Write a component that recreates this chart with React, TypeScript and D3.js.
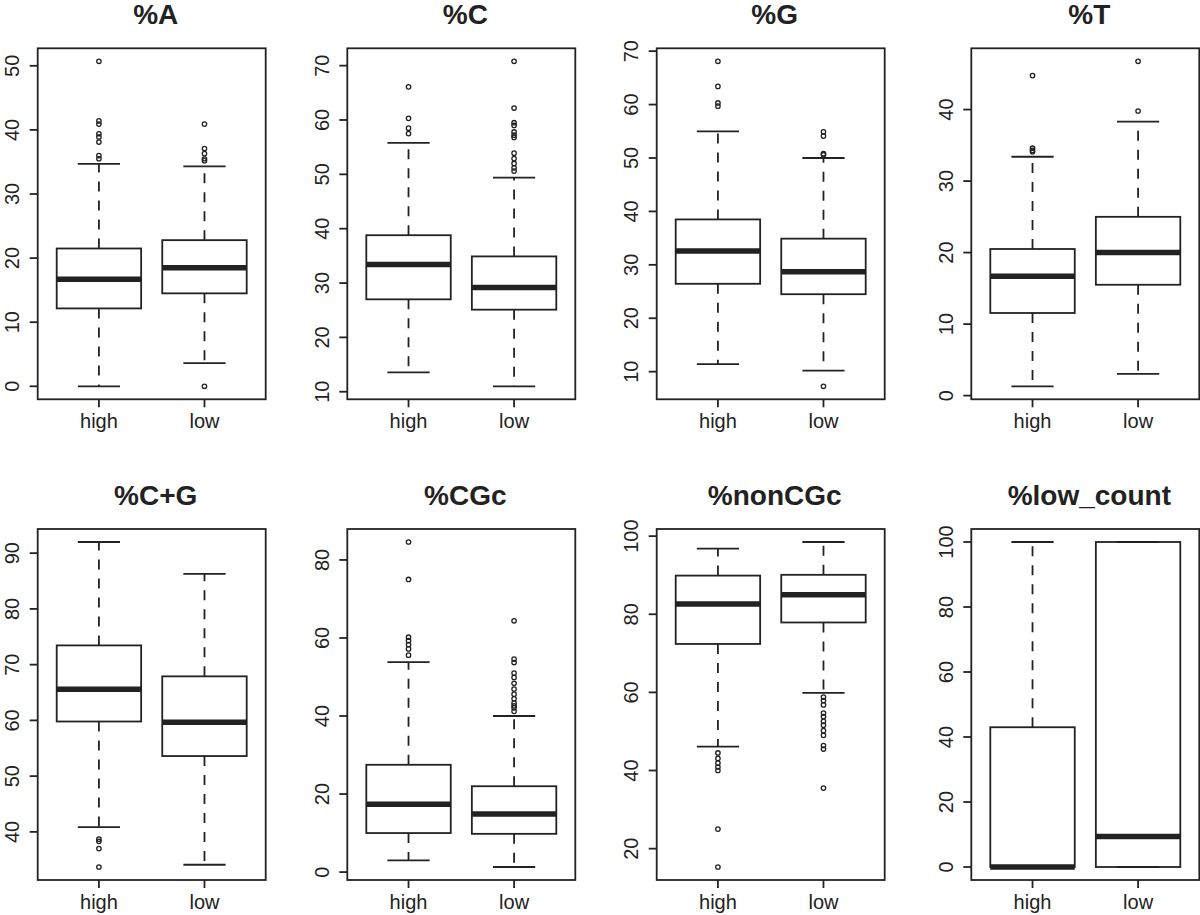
import React from "react";
import * as d3 from "d3";

// ---- data ----
const groups = ["high", "low"];
const panelTitles = ["%A", "%C", "%G", "%T", "%C+G", "%CGc", "%nonCGc", "%low_count"];

// [high, low] per panel
const lowerWhisker = [
  [0, 3.6], [13.55, 11.0], [11.4, 10.2], [1.3, 3.03],
  [40.84, 34.1], [3.0, 1.3], [46.1, 59.9], [0, 0],
];
const q1 = [
  [12.15, 14.5], [27.0, 25.1], [26.45, 24.5], [11.55, 15.5],
  [59.8, 53.6], [10.0, 9.8], [72.4, 77.9], [0, 0],
];
const medians = [
  [16.7, 18.5], [33.4, 29.2], [32.6, 28.7], [16.7, 20.0],
  [65.6, 59.65], [17.4, 14.9], [82.6, 85.0], [0, 9.4],
];
const q3 = [
  [21.5, 22.8], [38.8, 34.9], [38.5, 34.9], [20.5, 25.0],
  [73.45, 67.9], [27.5, 22.0], [89.9, 90.1], [43.0, 100],
];
const upperWhisker = [
  [34.7, 34.3], [55.8, 49.4], [55.0, 50.0], [33.4, 38.3],
  [92.0, 86.3], [53.8, 40.0], [96.8, 98.5], [100, 100],
];
const outliersHigh = [
  [50.7, 41.4, 40.9, 39.4, 38.9, 38.1, 36.0, 35.5],
  [66.1, 60.3, 58.5, 57.5],
  [68.1, 63.4, 60.3, 59.7],
  [44.75, 34.6, 34.3, 34.1],
  [38.7, 38.3, 37.0, 33.7],
  [84.6, 75.0, 60.2, 59.3, 58.3, 57.2, 55.6],
  [44.5, 43.1, 41.9, 40.9, 40.0, 25.0, 15.3],
  [],
];
const outliersLow = [
  [40.9, 37.1, 36.3, 35.5, 35.2, 0],
  [70.8, 62.2, 59.5, 59.0, 57.8, 57.2, 56.8, 53.9, 52.9, 52.0, 51.2, 50.6],
  [54.9, 54.1, 50.8, 50.6, 7.26],
  [46.75, 39.8],
  [],
  [64.4, 54.6, 53.7, 51.0, 49.9, 48.4, 46.9, 45.6, 44.4, 43.3, 42.6, 42.1, 41.2],
  [58.8, 57.9, 56.8, 54.7, 53.8, 52.6, 51.6, 50.2, 49.0, 46.4, 45.5, 35.5],
  [],
];
const yTicks = [
  [0, 10, 20, 30, 40, 50],
  [10, 20, 30, 40, 50, 60, 70],
  [10, 20, 30, 40, 50, 60, 70],
  [0, 10, 20, 30, 40],
  [40, 50, 60, 70, 80, 90],
  [0, 20, 40, 60, 80],
  [20, 40, 60, 80, 100],
  [0, 20, 40, 60, 80, 100],
];

// ---- layout ----
const W = 1200;
const H = 915;
const frameLefts = [37.7, 347.3, 656.7, 971.3];
const frameW = 228;
const rowTops = [48.3, 529];
const frameH = 351;
const INK = "#222";
const FONT = "'Liberation Sans', Arial, Helvetica, sans-serif";

function Panel({ idx }: { idx: number }) {
  const col = idx % 4;
  const row = Math.floor(idx / 4);
  const left = frameLefts[col];
  const top = rowTops[row];
  const right = left + frameW;
  const bottom = top + frameH;

  const all = [
    ...lowerWhisker[idx], ...upperWhisker[idx], ...q1[idx], ...q3[idx],
    ...outliersHigh[idx], ...outliersLow[idx],
  ];
  const lo = d3.min(all) as number;
  const hi = d3.max(all) as number;
  const pad = (hi - lo) * 0.04;
  const y = d3.scaleLinear().domain([lo - pad, hi + pad]).range([bottom, top]);
  const x = d3.scaleLinear().domain([0.42, 2.58]).range([left, right]);

  const outs = [outliersHigh[idx], outliersLow[idx]];

  return (
    <g>
      <text
        x={(left + right) / 2 + 4}
        y={top - 24}
        textAnchor="middle"
        fontFamily={FONT}
        fontWeight="bold"
        fontSize={28}
        fill={INK}
      >
        {panelTitles[idx]}
      </text>
      {/* y axis */}
      {yTicks[idx].map((t) => (
        <g key={"yt" + t}>
          <line x1={left - 8} x2={left} y1={y(t)} y2={y(t)} stroke={INK} strokeWidth={1.8} />
          <text
            transform={`translate(${left - 18.5},${y(t)}) rotate(-90)`}
            textAnchor="middle"
            fontFamily={FONT}
            fontSize={20}
            fill={INK}
          >
            {t}
          </text>
        </g>
      ))}
      {/* x axis */}
      {groups.map((g, i) => (
        <g key={"xt" + g}>
          <line x1={x(i + 1)} x2={x(i + 1)} y1={bottom} y2={bottom + 8} stroke={INK} strokeWidth={1.8} />
          <text x={x(i + 1)} y={bottom + 29} textAnchor="middle" fontFamily={FONT} fontSize={20} fill={INK}>
            {g}
          </text>
        </g>
      ))}
      {/* boxes */}
      {groups.map((g, i) => {
        const c = i + 1;
        const bx0 = x(c - 0.4);
        const bx1 = x(c + 0.4);
        const sx0 = x(c - 0.2);
        const sx1 = x(c + 0.2);
        const xc = x(c);
        return (
          <g key={"b" + g}>
            <line x1={xc} x2={xc} y1={y(q1[idx][i])} y2={y(lowerWhisker[idx][i])} stroke={INK} strokeWidth={1.8} strokeDasharray="10,9" />
            <line x1={xc} x2={xc} y1={y(q3[idx][i])} y2={y(upperWhisker[idx][i])} stroke={INK} strokeWidth={1.8} strokeDasharray="10,9" />
            <line x1={sx0} x2={sx1} y1={y(lowerWhisker[idx][i])} y2={y(lowerWhisker[idx][i])} stroke={INK} strokeWidth={1.8} />
            <line x1={sx0} x2={sx1} y1={y(upperWhisker[idx][i])} y2={y(upperWhisker[idx][i])} stroke={INK} strokeWidth={1.8} />
            <rect
              x={bx0}
              y={y(q3[idx][i])}
              width={bx1 - bx0}
              height={y(q1[idx][i]) - y(q3[idx][i])}
              fill="none"
              stroke={INK}
              strokeWidth={1.8}
            />
            <line x1={bx0} x2={bx1} y1={y(medians[idx][i])} y2={y(medians[idx][i])} stroke={INK} strokeWidth={5.5} />
            {outs[i].map((v, k) => (
              <circle key={k} cx={xc} cy={y(v)} r={2.2} fill="none" stroke={INK} strokeWidth={1.3} />
            ))}
          </g>
        );
      })}
      {/* frame */}
      <rect x={left} y={top} width={frameW} height={frameH} fill="none" stroke={INK} strokeWidth={1.8} />
    </g>
  );
}

export default function App() {
  return (
    <svg
      width={W}
      height={H}
      viewBox={`0 0 ${W} ${H}`}
      style={{ position: "absolute", left: 0, top: 0, background: "#fff" }}
    >
      <rect x={0} y={0} width={W} height={H} fill="#fff" />
      {panelTitles.map((_, i) => (
        <Panel key={i} idx={i} />
      ))}
    </svg>
  );
}
